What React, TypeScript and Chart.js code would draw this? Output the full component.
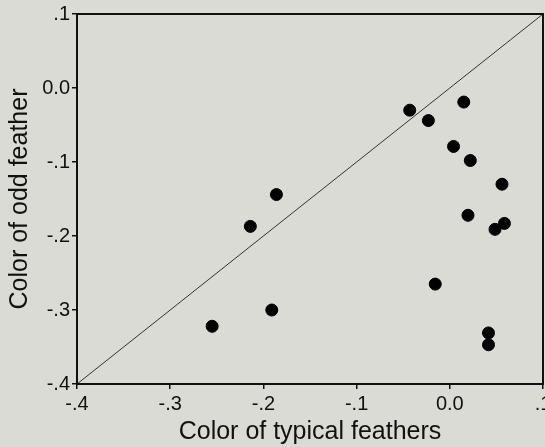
import React, { useEffect, useRef } from "react";
import { Chart, registerables } from "chart.js";

Chart.register(...registerables);

const typicalColor: number[] = [-0.255, -0.191, -0.186, -0.214, -0.043, -0.023, 0.015, 0.004, 0.022, 0.056, 0.0195, 0.0485, 0.0586, -0.0156, 0.0415, 0.0415];
const oddColor: number[] = [-0.322, -0.300, -0.144, -0.187, -0.030, -0.044, -0.019, -0.079, -0.098, -0.130, -0.172, -0.191, -0.183, -0.265, -0.331, -0.347];
const diagonal: number[] = [-0.4, 0.1];
const xTickLabels: string[] = ["-.4", "-.3", "-.2", "-.1", "0.0", ".1"];
const yTickLabels: string[] = ["-.4", "-.3", "-.2", "-.1", "0.0", ".1"];
const xTitle = "Color of typical feathers";
const yTitle = "Color of odd feather";

const BG = "#dbdbd5";
const FONT = "'Liberation Sans', Arial, Helvetica, sans-serif";

const boxPlugin = {
  id: "boxPlugin",
  beforeDraw(chart: any) {
    const { ctx, width, height } = chart;
    ctx.save();
    ctx.fillStyle = BG;
    ctx.fillRect(0, 0, width, height);
    ctx.restore();
  },
  afterDraw(chart: any) {
    const { ctx, chartArea } = chart;
    ctx.save();
    ctx.strokeStyle = "#111";
    ctx.lineWidth = 2;
    ctx.strokeRect(chartArea.left, chartArea.top, chartArea.right - chartArea.left, chartArea.bottom - chartArea.top);
    ctx.restore();
  },
};

export default function App() {
  const ref = useRef<HTMLCanvasElement | null>(null);
  useEffect(() => {
    if (!ref.current) return;
    const pts = typicalColor.map((x, i) => ({ x, y: oddColor[i] }));
    const line = diagonal.map((v) => ({ x: v, y: v }));
    const chart = new Chart(ref.current, {
      type: "scatter",
      data: {
        datasets: [
          {
            type: "line",
            data: line,
            borderColor: "#333",
            borderWidth: 1,
            pointRadius: 0,
            fill: false,
          } as any,
          {
            data: pts,
            backgroundColor: "#000",
            borderColor: "#000",
            pointRadius: 6,
            pointHoverRadius: 6,
          },
        ],
      },
      plugins: [boxPlugin],
      options: {
        responsive: false,
        animation: false,
        events: [],
        layout: { padding: { top: 13, right: 17, left: 0, bottom: 0 } },
        plugins: { legend: { display: false }, tooltip: { enabled: false } },
        scales: {
          x: {
            type: "linear",
            min: -0.4,
            max: 0.1,
            afterFit: (s: any) => {
              s.height = 63;
            },
            border: { display: true, color: "#111", width: 2 },
            grid: { drawOnChartArea: false, drawTicks: true, tickLength: 5, color: "#111", lineWidth: 1.5 },
            ticks: {
              stepSize: 0.1,
              padding: 3,
              color: "#111",
              maxRotation: 0,
              font: { family: FONT, size: 20 },
              callback: (_v: any, i: number) => xTickLabels[i],
            },
            title: {
              display: true,
              text: xTitle,
              color: "#111",
              font: { family: FONT, size: 25 },
              padding: { top: 0, bottom: 0 },
            },
          },
          y: {
            type: "linear",
            min: -0.4,
            max: 0.1,
            afterFit: (s: any) => {
              s.width = 77;
            },
            border: { display: true, color: "#111", width: 2 },
            grid: { drawOnChartArea: false, drawTicks: true, tickLength: 5, color: "#111", lineWidth: 1.5 },
            ticks: {
              stepSize: 0.1,
              padding: 2,
              color: "#111",
              font: { family: FONT, size: 20 },
              callback: (_v: any, i: number) => yTickLabels[i],
            },
            title: {
              display: true,
              text: yTitle,
              color: "#111",
              font: { family: FONT, size: 25 },
              padding: { top: 5, bottom: 0 },
            },
          },
        },
      },
    });
    return () => chart.destroy();
  }, []);
  return (
    <div style={{ position: "fixed", left: 0, top: 0, width: 545, height: 447, overflow: "hidden", background: BG }}>
      <canvas ref={ref} width={560} height={447} style={{ display: "block" }} />
    </div>
  );
}
